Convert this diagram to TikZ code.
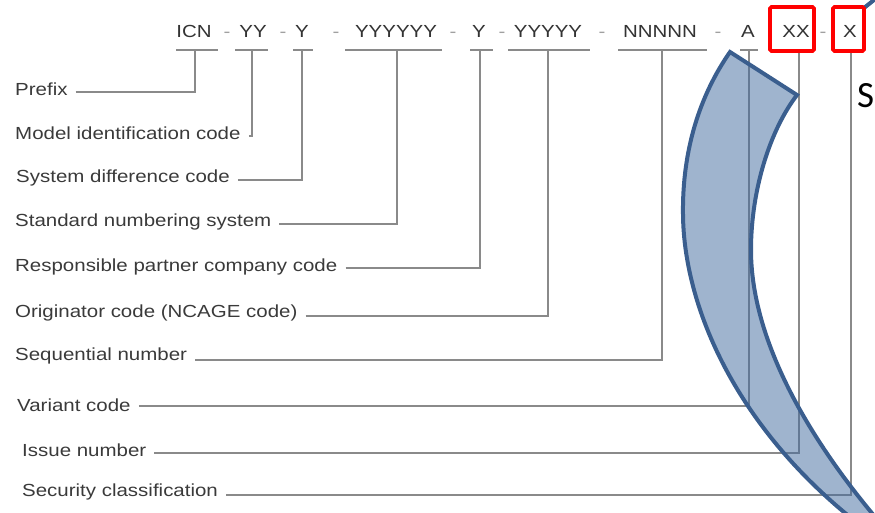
\documentclass[tikz,border=0pt]{standalone}
\usepackage{fontspec}
\setmainfont{Liberation Sans}
\newfontfamily\calibfont{Carlito}
\usepackage{graphicx}
\definecolor{txt}{HTML}{3A3A3A}
\definecolor{codetxt}{HTML}{333333}
\definecolor{linegray}{HTML}{8A8A8A}
\definecolor{hyph}{HTML}{A0A0A0}
\definecolor{arrowedge}{HTML}{3A5E8E}
\definecolor{arrowfill}{HTML}{3F6A9E}
\newcommand{\wide}[1]{\scalebox{1.17}[1]{#1}}
\begin{document}
\begin{tikzpicture}[x=1pt,y=-1pt,
  lab/.style={anchor=west,inner xsep=8pt,inner ysep=0pt,text=txt,font=\fontsize{17.5}{20}\selectfont},
  codebox/.style={anchor=base,inner sep=0pt,text=codetxt,font=\fontsize{17.5}{20}\selectfont},
  hyphen/.style={anchor=base,inner sep=0pt,text=hyph,font=\fontsize{17.5}{20}\selectfont},
  conn/.style={draw=linegray,line width=1.4pt},
  redbox/.style={draw=red,line width=3.6pt,rounded corners=1.5pt},
  bluearrow/.style={draw=arrowedge,line width=4pt,line join=miter,fill=arrowfill,fill opacity=0.5}]
\useasboundingbox (0,0) rectangle (875,513);

% code row
\node[codebox] (c1) at (194,37.5) {\wide{ICN}};
\node[codebox] (c2) at (253,37.5) {\wide{YY}};
\node[codebox] (c3) at (302,37.5) {\wide{Y}};
\node[codebox] (c4) at (396,37.5) {\wide{YYYYYY}};
\node[codebox] (c5) at (479,37.5) {\wide{Y}};
\node[codebox] (c6) at (548,37.5) {\wide{YYYYY}};
\node[codebox] (c7) at (660,37.5) {\wide{NNNNN}};
\node[codebox] (c8) at (748,37.5) {\wide{A}};
\node[codebox] (c9) at (796,37.5) {\wide{XX}};
\node[codebox] (c10) at (850,37.5) {\wide{X}};
\foreach \hx [count=\i] in {227,283,336,453,502,602,718,823}
  \node[hyphen] (h\i) at (\hx,37.5) {\wide{-}};

% underlines
\draw[conn] (176,50) -- (218,50);
\draw[conn] (235,50) -- (268,50);
\draw[conn] (293,50) -- (313,50);
\draw[conn] (345,50) -- (442,50);
\draw[conn] (470,50) -- (493,50);
\draw[conn] (508,50) -- (590,50);
\draw[conn] (618,50) -- (707,50);
\draw[conn] (740,50) -- (758,50);
\draw[conn] (775,50) -- (812,50);
\draw[conn] (836,50) -- (862,50);

% labels
\node[lab] (l1) at (7,89) {\wide{Prefix}};
\node[lab] (l2) at (7,133) {\wide{Model identification code}};
\node[lab] (l3) at (8,178) {\wide{System difference code}};
\node[lab] (l4) at (7,222) {\wide{Standard numbering system}};
\node[lab] (l5) at (7,267) {\wide{Responsible partner company code}};
\node[lab] (l6) at (7,313) {\wide{Originator code (NCAGE code)}};
\node[lab] (l7) at (7,356) {\wide{Sequential number}};
\node[lab] (l8) at (9,405) {\wide{Variant code}};
\node[lab] (l9) at (14,450) {\wide{Issue number}};
\node[lab] (l10) at (14,492) {\wide{Security classification}};

% connector coordinates
\coordinate (v1) at (195,50);  \coordinate (k1) at (195,92);
\coordinate (v2) at (252,50);  \coordinate (k2) at (252,136);
\coordinate (v3) at (302,50);  \coordinate (k3) at (302,180);
\coordinate (v4) at (397,50);  \coordinate (k4) at (397,224);
\coordinate (v5) at (480,50);  \coordinate (k5) at (480,268);
\coordinate (v6) at (548,50);  \coordinate (k6) at (548,316);
\coordinate (v7) at (662,50);  \coordinate (k7) at (662,360);
\coordinate (v8) at (749,50);  \coordinate (k8) at (749,406);
\coordinate (v9) at (799,50);  \coordinate (k9) at (799,453);
\coordinate (v10) at (851,50); \coordinate (k10) at (851,495);
\foreach \i in {1,...,10}
  \draw[conn] (l\i.east |- k\i) -- (k\i) -- (v\i);

% curved blue arrow
\begin{scope}
\clip (0,0) rectangle (875,513);
\draw[bluearrow] (730,52) -- (797,95)
  .. controls (770,130) and (751,190) .. (751,250)
  .. controls (751,330) and (797,430) .. (895,540)
  -- (880,540)
  .. controls (740,440) and (684,310) .. (683,215)
  .. controls (682,150) and (700,95) .. (730,52) -- cycle;
\draw[draw=arrowedge,line width=4pt] (864,8) -- (879,-4);
\end{scope}

% red boxes
\draw[redbox] (770,7) rectangle (814,51);
\draw[redbox] (833,7) rectangle (864,51);

% partial text at right
\node[anchor=base west,inner sep=0pt,font=\calibfont\fontsize{37}{40}\selectfont] (s) at (857,108) {S};
\end{tikzpicture}
\end{document}
